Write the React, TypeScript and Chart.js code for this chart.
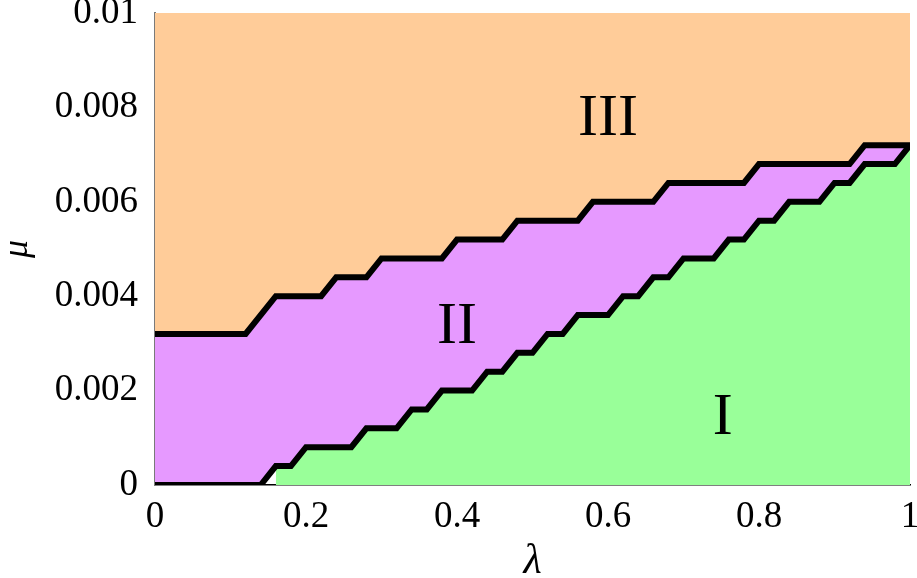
import React, { useEffect, useRef } from 'react';
import { Chart, registerables } from 'chart.js';

Chart.register(...registerables);

// Upper boundary (region III / region II)
const upperLambda = [0, 0.12, 0.16, 0.22, 0.24, 0.28, 0.30, 0.38, 0.40, 0.46, 0.48, 0.56, 0.58, 0.66, 0.68, 0.78, 0.80, 0.92, 0.94, 1.0];
const upperMu = [0.0032, 0.0032, 0.0040, 0.0040, 0.0044, 0.0044, 0.0048, 0.0048, 0.0052, 0.0052, 0.0056, 0.0056, 0.0060, 0.0060, 0.0064, 0.0064, 0.0068, 0.0068, 0.0072, 0.0072];

// Lower boundary (region II / region I)
const lowerLambda = [0, 0.14, 0.16, 0.18, 0.20, 0.26, 0.28, 0.32, 0.34, 0.36, 0.38, 0.42, 0.44, 0.46, 0.48, 0.50, 0.52, 0.54, 0.56, 0.60, 0.62, 0.64, 0.66, 0.68, 0.70, 0.74, 0.76, 0.78, 0.80, 0.82, 0.84, 0.88, 0.90, 0.92, 0.94, 0.98, 1.0];
const lowerMu = [0, 0, 0.0004, 0.0004, 0.0008, 0.0008, 0.0012, 0.0012, 0.0016, 0.0016, 0.0020, 0.0020, 0.0024, 0.0024, 0.0028, 0.0028, 0.0032, 0.0032, 0.0036, 0.0036, 0.0040, 0.0040, 0.0044, 0.0044, 0.0048, 0.0048, 0.0052, 0.0052, 0.0056, 0.0056, 0.0060, 0.0060, 0.0064, 0.0064, 0.0068, 0.0068, 0.0072];

// Region I fill begins here
const greenStartLambda = 0.16;

const xTickValues = [0, 0.2, 0.4, 0.6, 0.8, 1];
const xTickLabels = ['0', '0.2', '0.4', '0.6', '0.8', '1'];
const yTickValues = [0, 0.002, 0.004, 0.006, 0.008, 0.01];
const yTickLabels = ['0', '0.002', '0.004', '0.006', '0.008', '0.01'];

const regionLabels = ['III', 'II', 'I'];
const regionLambda = [0.6, 0.4, 0.752];
const regionMu = [0.00742, 0.0030, 0.00108];

const xTitle = 'λ';
const yTitle = 'μ';

const ORANGE = '#ffcc99';
const PURPLE = '#e699ff';
const GREEN = '#99ff99';
const SERIF = '"Liberation Serif", "Times New Roman", serif';

const toPoints = (xs: number[], ys: number[]) => xs.map((x, i) => ({ x, y: ys[i] }));

const regionLabelPlugin = {
  id: 'regionLabels',
  afterDatasetsDraw(chart: any) {
    const { ctx, scales } = chart;
    const xs = scales.x;
    const ys = scales.y;
    ctx.save();
    ctx.font = `60px ${SERIF}`;
    ctx.fillStyle = '#000';
    ctx.textAlign = 'center';
    ctx.textBaseline = 'alphabetic';
    regionLabels.forEach((t, i) => {
      ctx.fillText(t, xs.getPixelForValue(regionLambda[i]), ys.getPixelForValue(regionMu[i]));
    });
    ctx.restore();
  },
};

export default function App() {
  const canvasRef = useRef<HTMLCanvasElement | null>(null);

  useEffect(() => {
    const canvas = canvasRef.current;
    if (!canvas) return;
    const upper = toPoints(upperLambda, upperMu);
    const lower = toPoints(lowerLambda, lowerMu);
    const green = lower.filter((p) => p.x >= greenStartLambda);
    const clear = 'rgba(0,0,0,0)';

    const chart = new Chart(canvas, {
      type: 'line',
      data: {
        datasets: [
          {
            data: upper,
            borderColor: '#000',
            borderWidth: 6,
            fill: false,
            pointRadius: 0,
            borderJoinStyle: 'miter',
            borderCapStyle: 'butt',
            order: 0,
            clip: 0,
          } as any,
          {
            data: lower,
            borderColor: '#000',
            borderWidth: 6,
            fill: false,
            pointRadius: 0,
            borderJoinStyle: 'miter',
            borderCapStyle: 'butt',
            order: 0,
            clip: 0,
          } as any,
          {
            data: upper,
            borderColor: clear,
            borderWidth: 1,
            backgroundColor: PURPLE,
            fill: { target: 1 },
            pointRadius: 0,
            order: 2,
          } as any,
          {
            data: green,
            borderColor: clear,
            borderWidth: 1,
            backgroundColor: GREEN,
            fill: 'origin',
            pointRadius: 0,
            order: 2,
          } as any,
          {
            data: upper,
            borderColor: clear,
            borderWidth: 1,
            backgroundColor: ORANGE,
            fill: 'end',
            pointRadius: 0,
            order: 2,
          } as any,
        ],
      },
      options: {
        animation: false,
        responsive: false,
        devicePixelRatio: 1,
        parsing: false as any,
        layout: { padding: { top: 13, right: 7, left: 0, bottom: 0 } },
        plugins: {
          legend: { display: false },
          tooltip: { enabled: false },
        },
        scales: {
          x: {
            type: 'linear',
            min: 0,
            max: 1,
            grid: { display: false, drawTicks: false },
            border: { display: true, color: '#000', width: 1.5 },
            afterBuildTicks: (scale: any) => {
              scale.ticks = xTickValues.map((v) => ({ value: v }));
            },
            afterFit: (scale: any) => {
              scale.height = 93;
              scale.paddingLeft = 0;
              scale.paddingRight = 0;
            },
            ticks: {
              padding: 10,
              color: '#000',
              maxRotation: 0,
              font: { family: SERIF, size: 37 },
              callback: (v: any) => {
                const i = xTickValues.findIndex((t) => Math.abs(t - Number(v)) < 1e-9);
                return i >= 0 ? xTickLabels[i] : '';
              },
            },
            title: {
              display: true,
              text: xTitle,
              color: '#000',
              padding: { top: 0, bottom: -5 },
              font: { family: SERIF, size: 42, style: 'italic', lineHeight: 1 },
            },
          },
          y: {
            type: 'linear',
            min: 0,
            max: 0.01,
            grid: { display: false, drawTicks: false },
            border: { display: true, color: '#7a7a7a', width: 2 },
            afterBuildTicks: (scale: any) => {
              scale.ticks = yTickValues.map((v) => ({ value: v }));
            },
            afterFit: (scale: any) => {
              scale.width = 155;
              scale.paddingTop = 0;
              scale.paddingBottom = 0;
            },
            ticks: {
              padding: 17,
              color: '#000',
              font: { family: SERIF, size: 37 },
              callback: (v: any) => {
                const i = yTickValues.findIndex((t) => Math.abs(t - Number(v)) < 1e-12);
                return i >= 0 ? yTickLabels[i] : '';
              },
            },
            title: {
              display: true,
              text: yTitle,
              color: '#000',
              padding: 0,
              font: { family: SERIF, size: 36, style: 'italic', lineHeight: 1 },
            },
          },
        },
      } as any,
      plugins: [regionLabelPlugin],
    });

    return () => chart.destroy();
  }, []);

  return (
    <div style={{ position: 'fixed', left: 0, top: 0, width: 917, height: 578, background: '#fff' }}>
      <canvas ref={canvasRef} width={917} height={578} style={{ display: 'block' }} />
    </div>
  );
}
